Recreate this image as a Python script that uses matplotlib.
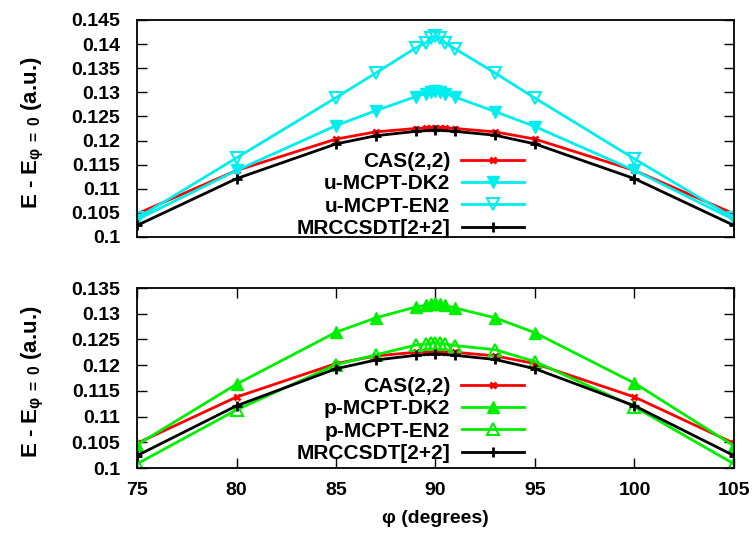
import matplotlib
matplotlib.use("Agg")
from matplotlib import pyplot as plt
from matplotlib.ticker import FuncFormatter, MultipleLocator

plt.rcParams['font.family'] = ['Liberation Sans', 'DejaVu Sans']
plt.rcParams['font.weight'] = 'bold'
plt.rcParams['mathtext.fontset'] = 'custom'
plt.rcParams['mathtext.rm'] = 'Liberation Sans:bold'
plt.rcParams['mathtext.it'] = 'Liberation Sans:bold'
plt.rcParams['mathtext.bf'] = 'Liberation Sans:bold'

font_size = 14
legend_font = 15
line_width = 2

# angles (degrees)
phi_dense = [75, 80, 85, 87, 89, 89.5, 89.75, 90, 90.25, 90.5, 91, 93, 95, 100, 105]
phi_ref = [75, 80, 85, 87, 89, 90, 91, 93, 95, 100, 105]

# energies (a.u.)
cas = [0.1048, 0.1138, 0.1203, 0.1218, 0.1225, 0.1226, 0.1227, 0.1227, 0.1227, 0.1226, 0.1225,
       0.1218, 0.1203, 0.1138, 0.1048]
mrcc = [0.1024, 0.1121, 0.1193, 0.1210, 0.1219, 0.1222, 0.1219, 0.1211, 0.1193, 0.1121, 0.1024]
u_dk2 = [0.1036, 0.1138, 0.1231, 0.1262, 0.1291, 0.1297, 0.1300, 0.1302, 0.1300, 0.1297, 0.1290,
         0.1260, 0.1229, 0.1138, 0.1036]
u_en2 = [0.1039, 0.1164, 0.1289, 0.1340, 0.1392, 0.1402, 0.1412, 0.1416, 0.1412, 0.1402, 0.1390,
         0.1340, 0.1288, 0.1162, 0.1039]
p_dk2 = [0.1045, 0.1163, 0.1264, 0.1292, 0.1313, 0.1316, 0.1319, 0.1320, 0.1319, 0.1316, 0.1311,
         0.1292, 0.1263, 0.1165, 0.1043]
p_en2 = [0.1008, 0.1113, 0.1201, 0.1220, 0.1239, 0.1241, 0.1243, 0.1244, 0.1243, 0.1241, 0.1238,
         0.1230, 0.1207, 0.1119, 0.1008]

colors = {'cas': '#ff0000', 'u': '#00eeee', 'p': '#00ee00', 'mrcc': 'black'}

W, H = 755, 533
fig = plt.figure(figsize=(W / 100, H / 100), dpi=100)


def px_axes(left, top, right, bottom):
    return fig.add_axes([left / W, 1 - bottom / H, (right - left) / W, (bottom - top) / H])


ax_top = px_axes(137, 20, 734, 237)
ax_bot = px_axes(137, 288, 734, 468)

fmt = FuncFormatter(lambda v, pos: '%g' % round(v, 4))


def style_axis(ax, y_max, legend_top, dk2, en2, dk2_label, en2_label, dk2_marker, en2_marker, color):
    ax.plot(phi_dense, cas, color=colors['cas'], lw=line_width, marker='x', ms=5, mew=2,
            label='CAS(2,2)')
    ax.plot(phi_dense, dk2, color=color, lw=line_width, marker=dk2_marker, ms=8,
            label=dk2_label)
    ax.plot(phi_dense, en2, color=color, lw=line_width, marker=en2_marker, ms=9, mfc='none',
            mew=1.5, label=en2_label)
    ax.plot(phi_ref, mrcc, color=colors['mrcc'], lw=line_width, marker='+', ms=7, mew=2,
            label='MRCCSDT[2+2]')
    ax.set_xlim(75, 105)
    ax.set_ylim(0.1, y_max)
    ax.yaxis.set_major_locator(MultipleLocator(0.005))
    ax.yaxis.set_major_formatter(fmt)
    ax.xaxis.set_major_locator(MultipleLocator(5))
    ax.tick_params(direction='in', length=7, width=1, labelsize=font_size, right=True, top=True,
                   pad=10)
    ax.tick_params(axis='y', pad=12)
    for lab in ax.get_xticklabels() + ax.get_yticklabels():
        lab.set_fontweight('bold')
    for s in ax.spines.values():
        s.set_linewidth(1.3)
    ax.set_ylabel(r'E - E$_{\varphi\;=\;0}$ (a.u.)', fontsize=16, fontweight='bold')
    ax.yaxis.set_label_coords(-0.152, 0.48)
    leg = ax.legend(loc='upper right', bbox_to_anchor=(524 / W, 1 - legend_top / H),
                    bbox_transform=fig.transFigure, frameon=False, markerfirst=False,
                    prop={'size': legend_font, 'weight': 'bold'}, handlelength=3.0,
                    handletextpad=0.55, labelspacing=0.16, borderpad=0, borderaxespad=0)
    return leg


style_axis(ax_top, 0.145, 152, u_dk2, u_en2, 'u-MCPT-DK2', 'u-MCPT-EN2', 'v', 'v', colors['u'])
ax_top.tick_params(axis='x', bottom=False, top=False, labelbottom=False)

style_axis(ax_bot, 0.135, 377, p_dk2, p_en2, 'p-MCPT-DK2', 'p-MCPT-EN2', '^', '^', colors['p'])
ax_bot.set_xlabel('φ (degrees)', fontsize=font_size, fontweight='bold', labelpad=8)

fig.savefig('out.png', dpi=100)
